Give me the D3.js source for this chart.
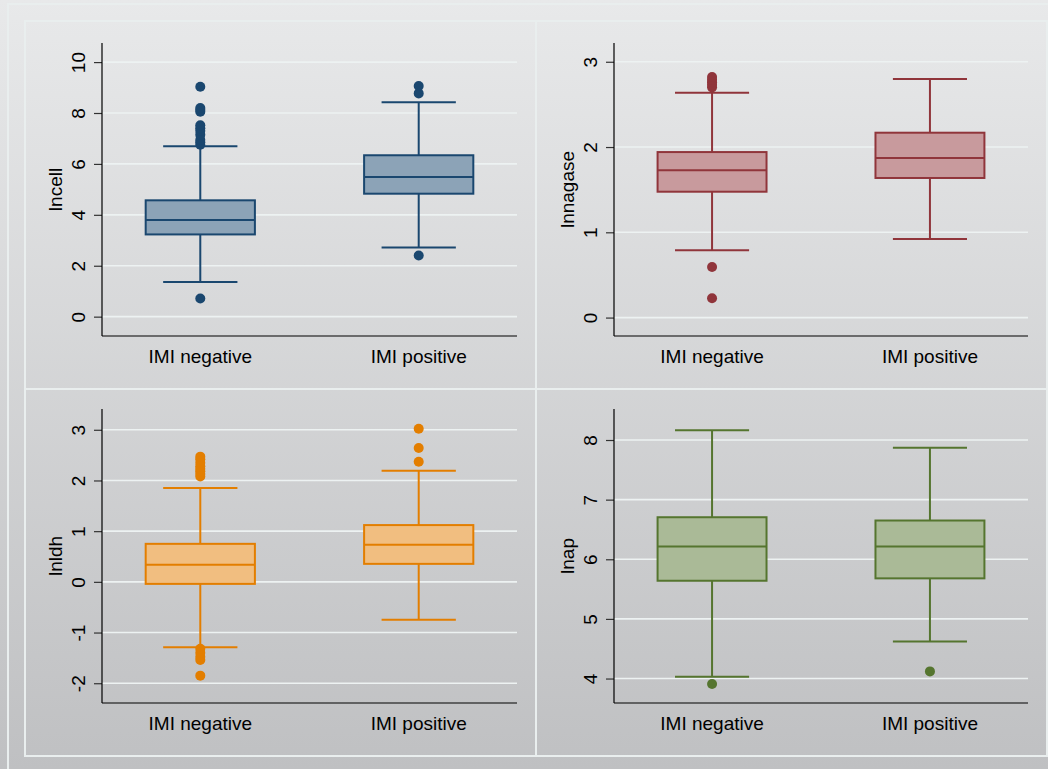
<!DOCTYPE html>
<html>
<head>
<meta charset="utf-8">
<script src="https://cdn.jsdelivr.net/npm/d3@7"></script>
<style>
body { margin: 0; overflow: hidden; }
svg { display: block; font-family: "Liberation Sans", Arial, sans-serif; }
</style>
</head>
<body>
<svg id="chart"></svg>
<script>
var width = 1048;
var height = 769;

var groups = ["IMI negative", "IMI positive"];

// [lower whisker, q1, median, q3, upper whisker] for each group
var lncellBox = [[1.36, 3.23, 3.80, 4.57, 6.69], [2.72, 4.83, 5.49, 6.34, 8.42]];
var lncellOut = [[0.71, 6.75, 6.85, 6.95, 7.15, 7.3, 7.4, 7.52, 8.05, 8.12, 8.2, 9.03], [2.40, 8.77, 9.06]];

var lnnagaseBox = [[0.789, 1.476, 1.727, 1.941, 2.637], [0.921, 1.637, 1.871, 2.168, 2.797]];
var lnnagaseOut = [[0.226, 0.593, 2.70, 2.73, 2.76, 2.79, 2.82], []];

var lnldhBox = [[-1.29, -0.04, 0.335, 0.75, 1.85], [-0.75, 0.355, 0.73, 1.12, 2.19]];
var lnldhOut = [[-1.85, -1.54, -1.48, -1.4, -1.32, 2.08, 2.13, 2.18, 2.23, 2.28, 2.35, 2.42, 2.47], [2.37, 2.64, 3.02]];

var lnapBox = [[4.03, 5.64, 6.215, 6.705, 8.163], [4.62, 5.68, 6.215, 6.65, 7.87]];
var lnapOut = [[3.91], [4.12]];

var lncellTicks = [0, 2, 4, 6, 8, 10];
var lnnagaseTicks = [0, 1, 2, 3];
var lnldhTicks = [-2, -1, 0, 1, 2, 3];
var lnapTicks = [4, 5, 6, 7, 8];

// panel layout (plot regions in pixels)
var colX = [[102, 517], [614, 1028]];
var rowY = [[43, 336], [409, 703]];

var panels = [
    {name: "lncell", box: lncellBox, out: lncellOut, ticks: lncellTicks, domain: [-0.76, 10.75],
     col: 0, row: 0, stroke: "#1a476f", fill: "#8ca3b7"},
    {name: "lnnagase", box: lnnagaseBox, out: lnnagaseOut, ticks: lnnagaseTicks, domain: [-0.216, 3.22],
     col: 1, row: 0, stroke: "#90353b", fill: "#c89a9d"},
    {name: "lnldh", box: lnldhBox, out: lnldhOut, ticks: lnldhTicks, domain: [-2.39, 3.41],
     col: 0, row: 1, stroke: "#e37e00", fill: "#f1be80"},
    {name: "lnap", box: lnapBox, out: lnapOut, ticks: lnapTicks, domain: [3.59, 8.52],
     col: 1, row: 1, stroke: "#55752f", fill: "#aaba97"}
];

var svg = d3.select("#chart").attr("width", width).attr("height", height);

var defs = svg.append("defs");
var grad = defs.append("linearGradient")
    .attr("id", "bg")
    .attr("x1", 0).attr("y1", 0).attr("x2", 0).attr("y2", 1);
grad.append("stop").attr("offset", "0%").attr("stop-color", "#e8e9ea");
grad.append("stop").attr("offset", "100%").attr("stop-color", "#bfc0c2");

svg.append("rect")
    .attr("width", width)
    .attr("height", height)
    .attr("fill", "url(#bg)");

// frames
var frameColor = "#e9eeee";
svg.append("rect")
    .attr("x", 8).attr("y", 4)
    .attr("width", width + 20).attr("height", height + 20)
    .attr("fill", "none").attr("stroke", frameColor).attr("stroke-width", 2);
svg.append("rect")
    .attr("x", 25).attr("y", 21)
    .attr("width", 1022).attr("height", 735)
    .attr("fill", "none").attr("stroke", frameColor).attr("stroke-width", 2);
svg.append("line")
    .attr("x1", 536).attr("x2", 536).attr("y1", 21).attr("y2", 756)
    .attr("stroke", frameColor).attr("stroke-width", 2);
svg.append("line")
    .attr("x1", 25).attr("x2", 1047).attr("y1", 389).attr("y2", 389)
    .attr("stroke", frameColor).attr("stroke-width", 2);

panels.forEach(function (p) {
    var xr = colX[p.col];
    var yr = rowY[p.row];

    var x = d3.scalePoint().domain(groups).range(xr).padding(0.45);
    var y = d3.scaleLinear().domain(p.domain).range([yr[1], yr[0]]);
    var step = x.step();
    var boxW = step * 0.5;
    var capW = step * 0.34;

    var g = svg.append("g");

    // grid
    g.append("g").selectAll("line")
        .data(p.ticks)
        .enter().append("line")
        .attr("x1", xr[0]).attr("x2", xr[1])
        .attr("y1", function (d) { return y(d); })
        .attr("y2", function (d) { return y(d); })
        .attr("stroke", "#edf2f2")
        .attr("stroke-width", 1.6);

    // y axis
    var yAxis = g.append("g")
        .attr("transform", "translate(" + xr[0] + ",0)")
        .call(d3.axisLeft(y).tickValues(p.ticks).tickSize(8).tickSizeOuter(0)
            .tickFormat(function (d) { return String(d); }));
    yAxis.select(".domain").remove();
    yAxis.selectAll(".tick line").attr("stroke", "#333").attr("stroke-width", 1.2);
    yAxis.selectAll(".tick text")
        .attr("x", null).attr("dy", null)
        .attr("transform", "translate(-17,0) rotate(-90)")
        .attr("text-anchor", "middle")
        .attr("fill", "#000")
        .style("font-size", "19px")
        .style("font-family", "'Liberation Sans', Arial, sans-serif");

    g.append("line")
        .attr("x1", xr[0]).attr("x2", xr[0])
        .attr("y1", yr[0]).attr("y2", yr[1])
        .attr("stroke", "#000").attr("stroke-width", 1.2);
    g.append("line")
        .attr("x1", xr[0]).attr("x2", xr[1])
        .attr("y1", yr[1]).attr("y2", yr[1])
        .attr("stroke", "#000").attr("stroke-width", 1.2);

    // y title
    g.append("text")
        .attr("transform", "translate(" + (xr[0] - 40) + "," + ((yr[0] + yr[1]) / 2) + ") rotate(-90)")
        .attr("text-anchor", "middle")
        .style("font-size", "19px")
        .text(p.name);

    // x labels
    g.selectAll(".xlab")
        .data(groups)
        .enter().append("text")
        .attr("x", function (d) { return x(d); })
        .attr("y", yr[1] + 27)
        .attr("text-anchor", "middle")
        .style("font-size", "19px")
        .text(function (d) { return d; });

    // boxes
    groups.forEach(function (grp, i) {
        var s = p.box[i];
        var cx = x(grp);
        var b = g.append("g")
            .attr("stroke", p.stroke)
            .attr("stroke-width", 2);

        b.append("line")
            .attr("x1", cx).attr("x2", cx)
            .attr("y1", y(s[0])).attr("y2", y(s[1]));
        b.append("line")
            .attr("x1", cx).attr("x2", cx)
            .attr("y1", y(s[3])).attr("y2", y(s[4]));
        b.append("line")
            .attr("x1", cx - capW / 2).attr("x2", cx + capW / 2)
            .attr("y1", y(s[0])).attr("y2", y(s[0]));
        b.append("line")
            .attr("x1", cx - capW / 2).attr("x2", cx + capW / 2)
            .attr("y1", y(s[4])).attr("y2", y(s[4]));
        b.append("rect")
            .attr("x", cx - boxW / 2)
            .attr("width", boxW)
            .attr("y", y(s[3]))
            .attr("height", y(s[1]) - y(s[3]))
            .attr("fill", p.fill);
        b.append("line")
            .attr("x1", cx - boxW / 2).attr("x2", cx + boxW / 2)
            .attr("y1", y(s[2])).attr("y2", y(s[2]));

        g.append("g").selectAll("circle")
            .data(p.out[i])
            .enter().append("circle")
            .attr("cx", cx)
            .attr("cy", function (d) { return y(d); })
            .attr("r", 5)
            .attr("fill", p.stroke);
    });
});
</script>
</body>
</html>
